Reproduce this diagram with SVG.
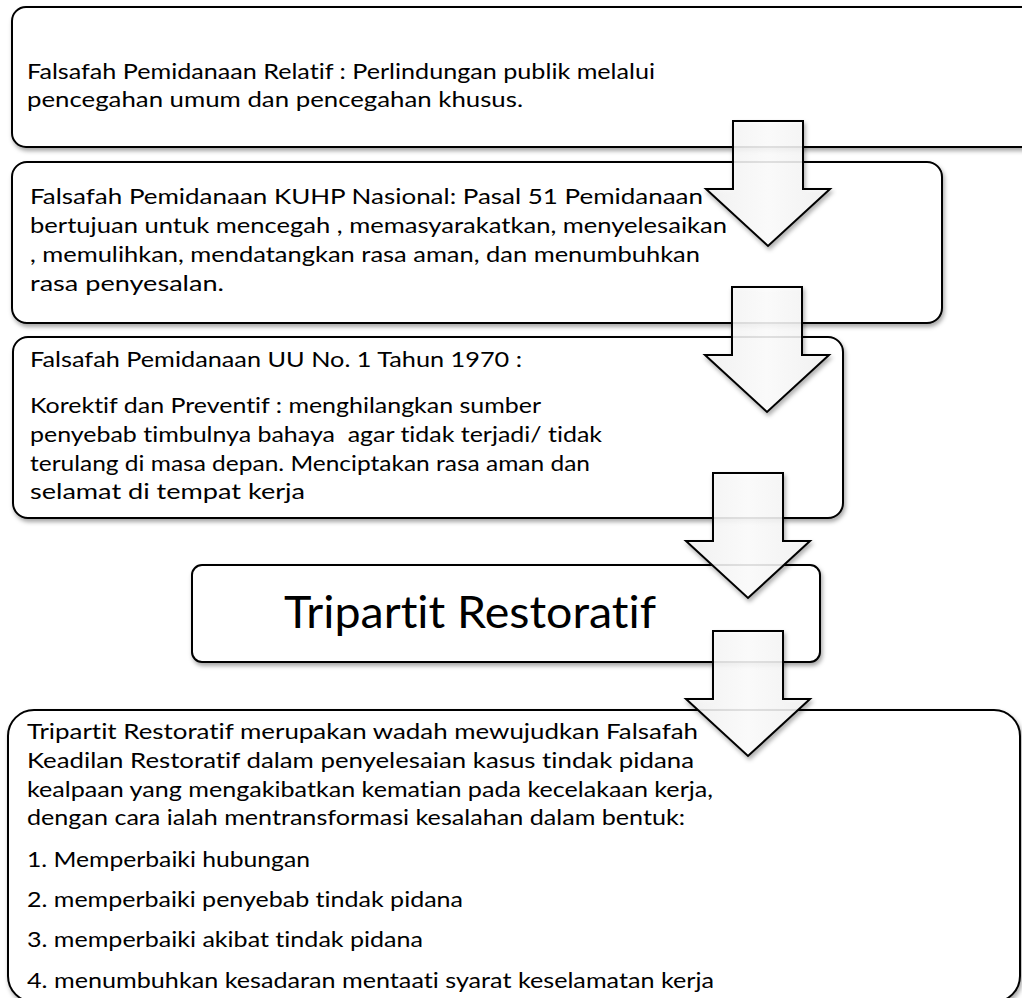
<svg xmlns="http://www.w3.org/2000/svg" width="1022" height="998" viewBox="0 0 1022 998">
  <defs>
    <filter id="shadow" x="-5%" y="-5%" width="110%" height="115%">
      <feDropShadow dx="1.5" dy="3" stdDeviation="2" flood-color="#000" flood-opacity="0.35"/>
    </filter>
    <linearGradient id="arrowFill" x1="0" y1="0" x2="1" y2="0">
      <stop offset="0" stop-color="#f4f4f4"/>
      <stop offset="0.5" stop-color="#ffffff"/>
      <stop offset="1" stop-color="#f4f4f4"/>
    </linearGradient>
    <!-- block arrow pointing down, origin at top-centre of the shaft -->
    <path id="downArrow" d="M -35,0 H 35 V 68 H 62 L 0,125 L -62,68 H -35 Z"/>
  </defs>
  <style>
    .box { fill: #ffffff; stroke: #000000; stroke-width: 2; filter: url(#shadow); }
    .arrow { fill: url(#arrowFill); fill-opacity: 0.85; stroke: #000000; stroke-width: 2; stroke-linejoin: miter; filter: url(#shadow); }
    .txt, .title { font-family: Lato, "Open Sans", "Liberation Sans", sans-serif; fill: #000000;
                   font-variant-ligatures: none; font-feature-settings: "liga" 0, "clig" 0; }
    .txt { font-size: 22px; }
    .title { font-size: 44px; }
  </style>

  <rect width="1022" height="998" fill="#ffffff"/>

  <g id="node-relatif">
    <rect class="box" x="12" y="7" width="1024" height="140" rx="14"/>
    <text class="txt" x="27" y="79" textLength="628" lengthAdjust="spacingAndGlyphs">Falsafah Pemidanaan Relatif : Perlindungan publik melalui</text>
    <text class="txt" x="27" y="107" textLength="496" lengthAdjust="spacingAndGlyphs">pencegahan umum dan pencegahan khusus.</text>
  </g>

  <g id="node-kuhp">
    <rect class="box" x="12" y="162" width="930" height="161" rx="15"/>
    <text class="txt" x="30" y="204" textLength="673" lengthAdjust="spacingAndGlyphs">Falsafah Pemidanaan KUHP Nasional: Pasal 51 Pemidanaan</text>
    <text class="txt" x="30" y="233" textLength="697" lengthAdjust="spacingAndGlyphs">bertujuan untuk mencegah , memasyarakatkan, menyelesaikan</text>
    <text class="txt" x="30" y="262" textLength="670" lengthAdjust="spacingAndGlyphs">, memulihkan, mendatangkan rasa aman, dan menumbuhkan</text>
    <text class="txt" x="30" y="291" textLength="194" lengthAdjust="spacingAndGlyphs">rasa penyesalan.</text>
  </g>

  <g id="node-uu">
    <rect class="box" x="13" y="337" width="830" height="181" rx="15"/>
    <text class="txt" x="30" y="367" textLength="492" lengthAdjust="spacingAndGlyphs">Falsafah Pemidanaan UU No. 1 Tahun 1970 :</text>
    <text class="txt" x="30" y="413" textLength="511" lengthAdjust="spacingAndGlyphs">Korektif dan Preventif : menghilangkan sumber</text>
    <text class="txt" x="30" y="442" textLength="572" lengthAdjust="spacingAndGlyphs" xml:space="preserve">penyebab timbulnya bahaya  agar tidak terjadi/ tidak</text>
    <text class="txt" x="30" y="471" textLength="560" lengthAdjust="spacingAndGlyphs">terulang di masa depan. Menciptakan rasa aman dan</text>
    <text class="txt" x="30" y="499" textLength="275" lengthAdjust="spacingAndGlyphs">selamat di tempat kerja</text>
  </g>

  <g id="node-tripartit">
    <rect class="box" x="192" y="565" width="628" height="97" rx="10"/>
    <text class="title" x="284" y="628" textLength="372" lengthAdjust="spacingAndGlyphs">Tripartit Restoratif</text>
  </g>

  <g id="node-penjelasan">
    <rect class="box" x="8" y="710" width="1012" height="292" rx="26"/>
    <text class="txt" x="27" y="739" textLength="671" lengthAdjust="spacingAndGlyphs">Tripartit Restoratif merupakan wadah mewujudkan Falsafah</text>
    <text class="txt" x="27" y="768" textLength="667" lengthAdjust="spacingAndGlyphs">Keadilan Restoratif dalam penyelesaian kasus tindak pidana</text>
    <text class="txt" x="27" y="797" textLength="686" lengthAdjust="spacingAndGlyphs">kealpaan yang mengakibatkan kematian pada kecelakaan kerja,</text>
    <text class="txt" x="27" y="825" textLength="658" lengthAdjust="spacingAndGlyphs">dengan cara ialah mentransformasi kesalahan dalam bentuk:</text>
    <text class="txt" x="27" y="867" textLength="283" lengthAdjust="spacingAndGlyphs">1. Memperbaiki hubungan</text>
    <text class="txt" x="27" y="907" textLength="436" lengthAdjust="spacingAndGlyphs">2. memperbaiki penyebab tindak pidana</text>
    <text class="txt" x="27" y="947" textLength="396" lengthAdjust="spacingAndGlyphs">3. memperbaiki akibat tindak pidana</text>
    <text class="txt" x="27" y="988" textLength="687" lengthAdjust="spacingAndGlyphs">4. menumbuhkan kesadaran mentaati syarat keselamatan kerja</text>
  </g>

  <g id="connectors">
    <use href="#downArrow" class="arrow" transform="translate(768,121)"/>
    <use href="#downArrow" class="arrow" transform="translate(767,287)"/>
    <use href="#downArrow" class="arrow" transform="translate(748,473)"/>
    <use href="#downArrow" class="arrow" transform="translate(748,631)"/>
  </g>
</svg>
